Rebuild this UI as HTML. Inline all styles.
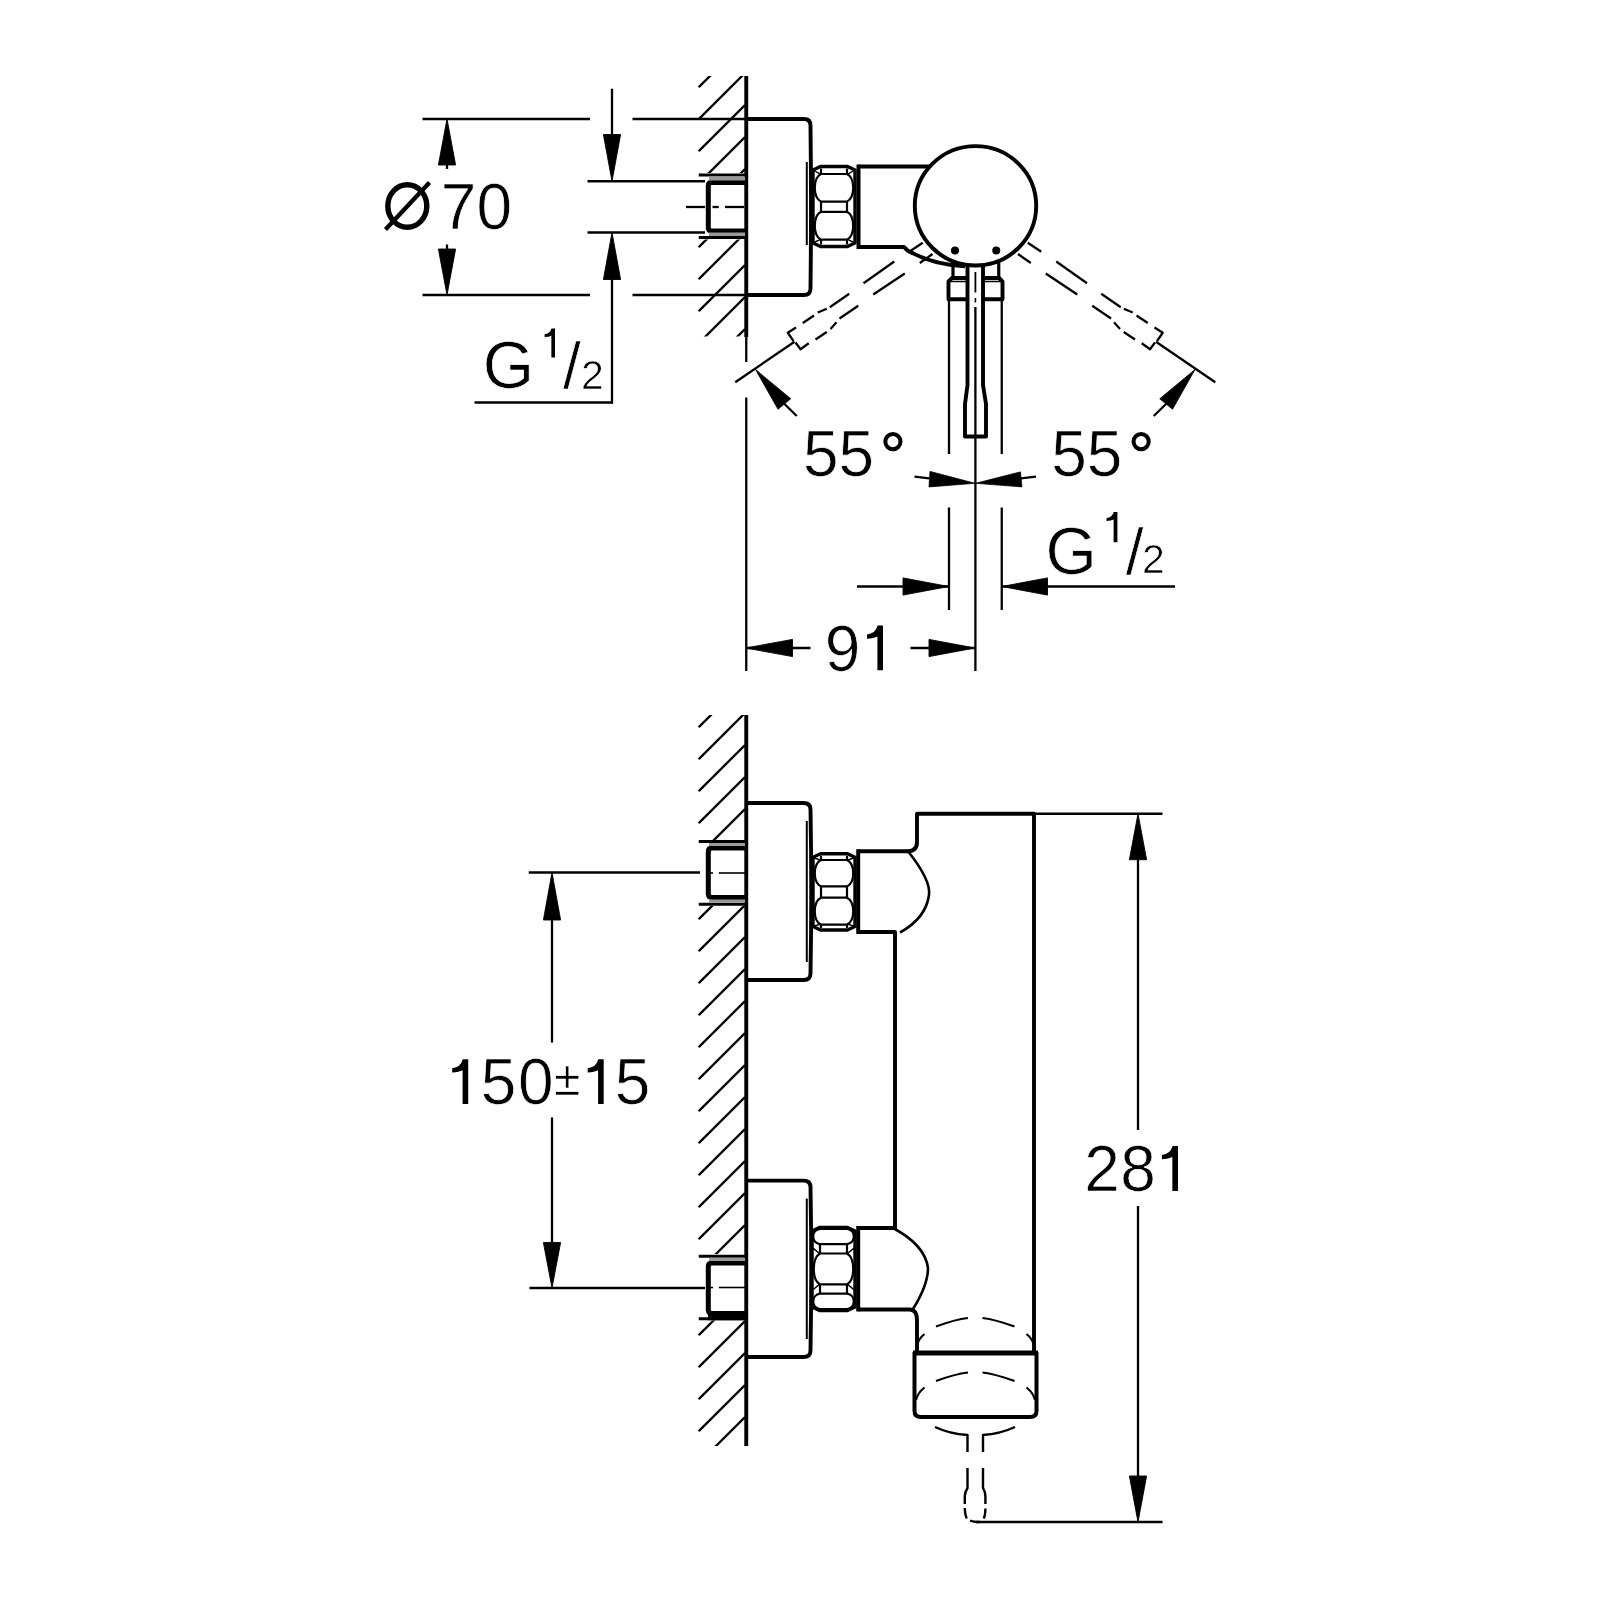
<!DOCTYPE html>
<html><head><meta charset="utf-8"><style>
html,body{margin:0;padding:0;background:#fff;}
svg{display:block;will-change:transform;}
text{font-family:"Liberation Sans",sans-serif;fill:#000;stroke:#fff;stroke-width:0.7px;}
</style></head><body>
<svg width="1600" height="1600" viewBox="0 0 1600 1600" stroke="#000" stroke-linecap="butt" stroke-linejoin="round">
<defs>
<clipPath id="hatchTop"><path d="M698 76 L745 76 L745 173 L698 173 Z M698 239.5 L745 239.5 L745 336.5 L698 336.5 Z"/></clipPath>
<clipPath id="hatchBot"><path d="M698 715 L745 715 L745 840 L698 840 Z M698 906 L745 906 L745 1254 L698 1254 Z M698 1320.5 L745 1320.5 L745 1446 L698 1446 Z"/></clipPath>
</defs>
<rect x="0" y="0" width="1600" height="1600" fill="#fff" stroke="none"/>
<g clip-path="url(#hatchTop)">
<line x1="698.75" y1="87.25" x2="745.00" y2="41.00" stroke-width="2.3" />
<line x1="698.75" y1="119.25" x2="745.00" y2="73.00" stroke-width="2.3" />
<line x1="698.75" y1="151.25" x2="745.00" y2="105.00" stroke-width="2.3" />
<line x1="698.75" y1="183.25" x2="745.00" y2="137.00" stroke-width="2.3" />
<line x1="698.75" y1="215.25" x2="745.00" y2="169.00" stroke-width="2.3" />
<line x1="698.75" y1="247.25" x2="745.00" y2="201.00" stroke-width="2.3" />
<line x1="698.75" y1="279.25" x2="745.00" y2="233.00" stroke-width="2.3" />
<line x1="698.75" y1="311.25" x2="745.00" y2="265.00" stroke-width="2.3" />
<line x1="698.75" y1="343.25" x2="745.00" y2="297.00" stroke-width="2.3" />
<line x1="698.75" y1="375.25" x2="745.00" y2="329.00" stroke-width="2.3" />
</g>
<line x1="746.25" y1="76.00" x2="746.25" y2="337.00" stroke-width="3.9" />
<line x1="746.25" y1="337.00" x2="746.25" y2="362.00" stroke-width="2.3" />
<line x1="746.25" y1="397.50" x2="746.25" y2="671.00" stroke-width="2.3" />
<line x1="422.50" y1="119.00" x2="590.00" y2="119.00" stroke-width="2.3" />
<line x1="632.50" y1="119.00" x2="746.00" y2="119.00" stroke-width="2.3" />
<line x1="422.50" y1="295.00" x2="590.00" y2="295.00" stroke-width="2.3" />
<line x1="632.50" y1="295.00" x2="746.00" y2="295.00" stroke-width="2.3" />
<line x1="447.00" y1="165.00" x2="447.00" y2="169.00" stroke-width="2.3" />
<path d="M447.00 119.00 L455.60 165.00 L438.40 165.00 Z" fill="#000" stroke="#000" stroke-width="0.9"/>
<line x1="447.00" y1="244.50" x2="447.00" y2="249.00" stroke-width="2.3" />
<path d="M447.00 295.00 L438.40 249.00 L455.60 249.00 Z" fill="#000" stroke="#000" stroke-width="0.9"/>
<line x1="612.00" y1="88.75" x2="612.00" y2="135.00" stroke-width="2.3" />
<line x1="612.00" y1="279.00" x2="612.00" y2="403.50" stroke-width="2.3" />
<line x1="474.50" y1="402.50" x2="613.00" y2="402.50" stroke-width="2.3" />
<path d="M612.00 181.25 L603.40 134.50 L620.60 134.50 Z" fill="#000" stroke="#000" stroke-width="0.9"/>
<path d="M612.00 232.50 L620.60 279.50 L603.40 279.50 Z" fill="#000" stroke="#000" stroke-width="0.9"/>
<line x1="587.50" y1="181.25" x2="705.00" y2="181.25" stroke-width="2.3" />
<line x1="587.50" y1="232.50" x2="705.00" y2="232.50" stroke-width="2.3" />
<line x1="698.75" y1="175.00" x2="745.00" y2="175.00" stroke-width="3.2" />
<line x1="698.75" y1="237.50" x2="745.00" y2="237.50" stroke-width="3.2" />
<path d="M745 182.5 L711.5 182.5 Q708.3 182.5 708.3 185.7 L708.3 227.8 Q708.3 231 711.5 231 L745 231" stroke-width="5.0" fill="none" />
<rect x="709" y="176.5" width="36" height="4" fill="#999" stroke="none"/>
<rect x="709" y="232.5" width="36" height="3.5" fill="#999" stroke="none"/>
<line x1="686.00" y1="207.00" x2="705.00" y2="207.00" stroke-width="2.3" />
<line x1="712.50" y1="207.00" x2="718.75" y2="207.00" stroke-width="2.3" />
<line x1="725.00" y1="207.00" x2="744.00" y2="207.00" stroke-width="2.3" />
<path d="M746.25 119 L804 119 Q810.5 119 810.5 125.5 Q811.5 207 810.5 288.5 Q810.5 295 804 295 L746.25 295" stroke-width="3.9" fill="none" />
<line x1="806.80" y1="162.00" x2="806.80" y2="245.00" stroke-width="2.0" />
<path d="M813.00 170.00 L820.50 166.50 L847.50 166.50 L855.00 170.00 L855.00 243.00 L847.50 246.50 L820.50 246.50 L813.00 243.00 Z" stroke-width="3.4" fill="none" />
<path d="M821 174.02 L847 174.02 C855.27 178.16 855.27 197.48 847 201.62 L821 201.62 C812.73 197.48 812.73 178.16 821 174.02 Z" stroke-width="2.2" fill="none" />
<path d="M821 211.78 L847 211.78 C855.27 215.96 855.27 235.44 847 239.62 L821 239.62 C812.73 235.44 812.73 215.96 821 211.78 Z" stroke-width="2.2" fill="none" />
<line x1="821.00" y1="168.50" x2="821.00" y2="174.02" stroke-width="2.2" />
<line x1="847.00" y1="168.50" x2="847.00" y2="174.02" stroke-width="2.2" />
<line x1="821.00" y1="201.62" x2="821.00" y2="211.78" stroke-width="2.2" />
<line x1="847.00" y1="201.62" x2="847.00" y2="211.78" stroke-width="2.2" />
<line x1="821.00" y1="239.62" x2="821.00" y2="244.50" stroke-width="2.2" />
<line x1="847.00" y1="239.62" x2="847.00" y2="244.50" stroke-width="2.2" />
<line x1="814.00" y1="170.50" x2="821.00" y2="174.52" stroke-width="1.4" />
<line x1="854.00" y1="170.50" x2="847.00" y2="174.52" stroke-width="1.4" />
<line x1="814.00" y1="242.50" x2="821.00" y2="239.12" stroke-width="1.4" />
<line x1="854.00" y1="242.50" x2="847.00" y2="239.12" stroke-width="1.4" />
<line x1="858.50" y1="164.50" x2="858.50" y2="249.00" stroke-width="4.0" />
<line x1="858.50" y1="166.50" x2="930.00" y2="166.50" stroke-width="3.9" />
<path d="M858.5 247 L904 247 L907.5 250.5 Q933 265 965 266.2" stroke-width="3.9" fill="none" />
<ellipse cx="975.5" cy="205.8" rx="60.7" ry="59.7" stroke-width="3.9" fill="none"/>
<circle cx="955" cy="250.6" r="4" fill="#000" stroke="none"/>
<circle cx="996.25" cy="250.6" r="4" fill="#000" stroke="none"/>
<line x1="953.00" y1="261.00" x2="953.00" y2="279.00" stroke-width="3.2" />
<line x1="998.75" y1="261.00" x2="998.75" y2="279.00" stroke-width="3.2" />
<path d="M967.5 299.3 L948.5 299.3 L948.5 281.5 L952 278 L967.5 278" stroke-width="3.9" fill="none" />
<path d="M983 299.3 L1002.5 299.3 L1002.5 281.5 L999 278 L983 278" stroke-width="3.9" fill="none" />
<line x1="950.00" y1="281.50" x2="967.50" y2="281.50" stroke-width="1.5" />
<line x1="983.00" y1="281.50" x2="1001.00" y2="281.50" stroke-width="1.5" />
<path d="M967.5 265 L967.5 385 L965 404 L965 436.5 L986 436.5 L986 404 L983 385 L983 265" stroke-width="3.9" fill="none" />
<line x1="975.40" y1="272.00" x2="975.40" y2="292.50" stroke-width="1.8" />
<line x1="975.40" y1="298.00" x2="975.40" y2="302.50" stroke-width="1.6" />
<line x1="975.40" y1="307.00" x2="975.40" y2="671.00" stroke-width="2.3" />
<line x1="949.00" y1="300.00" x2="949.00" y2="454.00" stroke-width="2.3" />
<line x1="1001.75" y1="300.00" x2="1001.75" y2="454.00" stroke-width="2.3" />
<line x1="949.00" y1="507.50" x2="949.00" y2="610.00" stroke-width="2.3" />
<line x1="1001.75" y1="507.50" x2="1001.75" y2="610.00" stroke-width="2.3" />
<line x1="914.50" y1="476.60" x2="929.00" y2="478.40" stroke-width="2.3" />
<path d="M975.00 483.30 L930.00 471.40 L929.00 486.90 Z" fill="#000" stroke="#000" stroke-width="0.8"/>
<line x1="1036.00" y1="476.60" x2="1021.00" y2="478.40" stroke-width="2.3" />
<path d="M975.60 483.30 L1020.50 471.90 L1021.90 486.90 Z" fill="#000" stroke="#000" stroke-width="0.8"/>
<g>
<path d="M1027.75 242.75 L1041.25 251.75" stroke-width="2.2" fill="none" stroke-linecap="butt"/>
<path d="M1018.00 254.00 L1030.75 263.00" stroke-width="2.2" fill="none" stroke-linecap="butt"/>
<path d="M1056.25 261.50 L1087.00 283.25" stroke-width="2.2" fill="none" stroke-linecap="butt"/>
<path d="M1101.25 293.75 L1120.75 307.25" stroke-width="2.2" fill="none" stroke-linecap="butt"/>
<path d="M1123.75 308.75 L1132.75 312.50" stroke-width="2.2" fill="none" stroke-linecap="butt"/>
<path d="M1136.50 315.50 L1147.75 323.00" stroke-width="2.2" fill="none" stroke-linecap="butt"/>
<path d="M1154.50 327.50 L1162.75 332.75 L1157.00 341.00" stroke-width="2.2" fill="none" stroke-linecap="butt"/>
<path d="M1045.75 273.50 L1077.25 294.50" stroke-width="2.2" fill="none" stroke-linecap="butt"/>
<path d="M1092.25 305.75 L1111.00 318.50" stroke-width="2.2" fill="none" stroke-linecap="butt"/>
<path d="M1114.00 322.25 L1120.00 329.00" stroke-width="2.2" fill="none" stroke-linecap="butt"/>
<path d="M1123.75 332.00 L1135.00 339.50" stroke-width="2.2" fill="none" stroke-linecap="butt"/>
<path d="M1141.75 343.25 L1150.00 349.25 L1155.00 342.50" stroke-width="2.2" fill="none" stroke-linecap="butt"/>
<line x1="1156.00" y1="341.75" x2="1215.25" y2="382.25" stroke-width="2.3" />
<path d="M1195.00 369.50 L1159.75 398.75 L1172.50 409.25 Z" fill="#000" stroke="#000" stroke-width="0.8"/>
<line x1="1166.00" y1="404.00" x2="1153.75" y2="416.00" stroke-width="2.3" />
</g>
<g transform="translate(1950.5 0) scale(-1 1)">
<path d="M1027.75 242.75 L1041.25 251.75" stroke-width="2.2" fill="none" stroke-linecap="butt"/>
<path d="M1018.00 254.00 L1030.75 263.00" stroke-width="2.2" fill="none" stroke-linecap="butt"/>
<path d="M1056.25 261.50 L1087.00 283.25" stroke-width="2.2" fill="none" stroke-linecap="butt"/>
<path d="M1101.25 293.75 L1120.75 307.25" stroke-width="2.2" fill="none" stroke-linecap="butt"/>
<path d="M1123.75 308.75 L1132.75 312.50" stroke-width="2.2" fill="none" stroke-linecap="butt"/>
<path d="M1136.50 315.50 L1147.75 323.00" stroke-width="2.2" fill="none" stroke-linecap="butt"/>
<path d="M1154.50 327.50 L1162.75 332.75 L1157.00 341.00" stroke-width="2.2" fill="none" stroke-linecap="butt"/>
<path d="M1045.75 273.50 L1077.25 294.50" stroke-width="2.2" fill="none" stroke-linecap="butt"/>
<path d="M1092.25 305.75 L1111.00 318.50" stroke-width="2.2" fill="none" stroke-linecap="butt"/>
<path d="M1114.00 322.25 L1120.00 329.00" stroke-width="2.2" fill="none" stroke-linecap="butt"/>
<path d="M1123.75 332.00 L1135.00 339.50" stroke-width="2.2" fill="none" stroke-linecap="butt"/>
<path d="M1141.75 343.25 L1150.00 349.25 L1155.00 342.50" stroke-width="2.2" fill="none" stroke-linecap="butt"/>
<line x1="1156.00" y1="341.75" x2="1215.25" y2="382.25" stroke-width="2.3" />
<path d="M1195.00 369.50 L1159.75 398.75 L1172.50 409.25 Z" fill="#000" stroke="#000" stroke-width="0.8"/>
<line x1="1166.00" y1="404.00" x2="1153.75" y2="416.00" stroke-width="2.3" />
</g>
<line x1="745.75" y1="648.00" x2="810.50" y2="648.00" stroke-width="2.3" />
<path d="M745.75 648.00 L792.50 639.40 L792.50 656.60 Z" fill="#000" stroke="#000" stroke-width="0.9"/>
<line x1="910.50" y1="648.00" x2="975.00" y2="648.00" stroke-width="2.3" />
<path d="M975.00 648.00 L929.00 656.60 L929.00 639.40 Z" fill="#000" stroke="#000" stroke-width="0.9"/>
<line x1="857.00" y1="586.50" x2="948.75" y2="586.50" stroke-width="2.3" />
<path d="M948.75 586.50 L903.00 595.10 L903.00 577.90 Z" fill="#000" stroke="#000" stroke-width="0.9"/>
<line x1="1001.75" y1="586.50" x2="1175.00" y2="586.50" stroke-width="2.3" />
<path d="M1001.75 586.50 L1047.50 577.90 L1047.50 595.10 Z" fill="#000" stroke="#000" stroke-width="0.9"/>
<g clip-path="url(#hatchBot)">
<line x1="698.75" y1="727.25" x2="745.00" y2="681.00" stroke-width="2.3" />
<line x1="698.75" y1="759.25" x2="745.00" y2="713.00" stroke-width="2.3" />
<line x1="698.75" y1="791.25" x2="745.00" y2="745.00" stroke-width="2.3" />
<line x1="698.75" y1="823.25" x2="745.00" y2="777.00" stroke-width="2.3" />
<line x1="698.75" y1="855.25" x2="745.00" y2="809.00" stroke-width="2.3" />
<line x1="698.75" y1="887.25" x2="745.00" y2="841.00" stroke-width="2.3" />
<line x1="698.75" y1="919.25" x2="745.00" y2="873.00" stroke-width="2.3" />
<line x1="698.75" y1="951.25" x2="745.00" y2="905.00" stroke-width="2.3" />
<line x1="698.75" y1="983.25" x2="745.00" y2="937.00" stroke-width="2.3" />
<line x1="698.75" y1="1015.25" x2="745.00" y2="969.00" stroke-width="2.3" />
<line x1="698.75" y1="1047.25" x2="745.00" y2="1001.00" stroke-width="2.3" />
<line x1="698.75" y1="1079.25" x2="745.00" y2="1033.00" stroke-width="2.3" />
<line x1="698.75" y1="1111.25" x2="745.00" y2="1065.00" stroke-width="2.3" />
<line x1="698.75" y1="1143.25" x2="745.00" y2="1097.00" stroke-width="2.3" />
<line x1="698.75" y1="1175.25" x2="745.00" y2="1129.00" stroke-width="2.3" />
<line x1="698.75" y1="1207.25" x2="745.00" y2="1161.00" stroke-width="2.3" />
<line x1="698.75" y1="1239.25" x2="745.00" y2="1193.00" stroke-width="2.3" />
<line x1="698.75" y1="1271.25" x2="745.00" y2="1225.00" stroke-width="2.3" />
<line x1="698.75" y1="1303.25" x2="745.00" y2="1257.00" stroke-width="2.3" />
<line x1="698.75" y1="1335.25" x2="745.00" y2="1289.00" stroke-width="2.3" />
<line x1="698.75" y1="1367.25" x2="745.00" y2="1321.00" stroke-width="2.3" />
<line x1="698.75" y1="1399.25" x2="745.00" y2="1353.00" stroke-width="2.3" />
<line x1="698.75" y1="1431.25" x2="745.00" y2="1385.00" stroke-width="2.3" />
<line x1="698.75" y1="1463.25" x2="745.00" y2="1417.00" stroke-width="2.3" />
</g>
<line x1="746.25" y1="715.00" x2="746.25" y2="1446.00" stroke-width="3.9" />
<path d="M746.25 803 L803.5 803 Q810.5 803 810.5 809.5 Q812 891.5 810.5 973.5 Q810.5 980 803.5 980 L746.25 980" stroke-width="3.9" fill="none" />
<line x1="806.80" y1="821.00" x2="806.80" y2="962.00" stroke-width="2.0" />
<line x1="698.75" y1="841.50" x2="745.00" y2="841.50" stroke-width="3.2" />
<line x1="698.75" y1="904.25" x2="745.00" y2="904.25" stroke-width="3.2" />
<path d="M745 848 L712 848 Q708.3 848 708.3 851.7 L708.3 893.8 Q708.3 897.5 712 897.5 L745 897.5" stroke-width="5.0" fill="none" />
<rect x="709" y="843.0" width="36" height="3.0" fill="#999" stroke="none"/>
<rect x="709" y="899.5" width="36" height="3.25" fill="#999" stroke="none"/>
<line x1="707.50" y1="873.00" x2="713.00" y2="873.00" stroke-width="1.6" />
<line x1="718.75" y1="873.00" x2="745.00" y2="873.00" stroke-width="1.6" />
<path d="M813.00 857.25 L820.50 853.75 L847.50 853.75 L855.00 857.25 L855.00 926.50 L847.50 930.00 L820.50 930.00 L813.00 926.50 Z" stroke-width="3.4" fill="none" />
<path d="M821 860.0025 L847 860.0025 C855.27 863.96 855.27 882.43 847 886.385 L821 886.385 C812.73 882.43 812.73 863.96 821 860.0025 Z" stroke-width="2.2" fill="none" />
<path d="M821 897.67 L847 897.67 C855.27 901.71 855.27 920.55 847 924.5862500000001 L821 924.5862500000001 C812.73 920.55 812.73 901.71 821 897.67 Z" stroke-width="2.2" fill="none" />
<line x1="821.00" y1="855.75" x2="821.00" y2="860.00" stroke-width="2.2" />
<line x1="847.00" y1="855.75" x2="847.00" y2="860.00" stroke-width="2.2" />
<line x1="821.00" y1="886.38" x2="821.00" y2="897.67" stroke-width="2.2" />
<line x1="847.00" y1="886.38" x2="847.00" y2="897.67" stroke-width="2.2" />
<line x1="821.00" y1="924.59" x2="821.00" y2="928.00" stroke-width="2.2" />
<line x1="847.00" y1="924.59" x2="847.00" y2="928.00" stroke-width="2.2" />
<line x1="814.00" y1="857.75" x2="821.00" y2="860.50" stroke-width="1.4" />
<line x1="854.00" y1="857.75" x2="847.00" y2="860.50" stroke-width="1.4" />
<line x1="814.00" y1="926.00" x2="821.00" y2="924.09" stroke-width="1.4" />
<line x1="854.00" y1="926.00" x2="847.00" y2="924.09" stroke-width="1.4" />
<line x1="858.20" y1="849.25" x2="858.20" y2="933.90" stroke-width="4.0" />
<path d="M746.25 1180.6 L803.5 1180.6 Q810.5 1180.6 810.5 1187.1 Q812 1268.8 810.5 1350.5 Q810.5 1357 803.5 1357 L746.25 1357" stroke-width="3.9" fill="none" />
<line x1="806.80" y1="1198.60" x2="806.80" y2="1339.00" stroke-width="2.0" />
<line x1="698.75" y1="1256.25" x2="745.00" y2="1256.25" stroke-width="3.2" />
<line x1="698.75" y1="1318.75" x2="745.00" y2="1318.75" stroke-width="3.2" />
<path d="M745 1263 L712 1263 Q708.3 1263 708.3 1266.7 L708.3 1309.8 Q708.3 1313.5 712 1313.5 L745 1313.5" stroke-width="5.0" fill="none" />
<rect x="709" y="1257.75" width="36" height="3.25" fill="#999" stroke="none"/>
<rect x="708" y="1312.5" width="37" height="7.75" fill="#000" stroke="none"/>
<line x1="707.50" y1="1287.50" x2="713.00" y2="1287.50" stroke-width="1.6" />
<line x1="718.75" y1="1287.50" x2="745.00" y2="1287.50" stroke-width="1.6" />
<path d="M812.00 1231.00 L819.50 1227.50 L847.50 1227.50 L855.00 1231.00 L855.00 1307.00 L847.50 1310.50 L819.50 1310.50 L812.00 1307.00 Z" stroke-width="3.4" fill="none" />
<path d="M820 1229.0 L847 1229.0 C856 1230.0 856 1243.1 847 1244.1 L820 1244.1 C811 1243.1 811 1230.0 820 1229.0 Z" stroke-width="2.2" fill="none" />
<path d="M820 1293.7 L847 1293.7 C856 1294.7 856 1308.0 847 1309.0 L820 1309.0 C811 1308.0 811 1294.7 820 1293.7 Z" stroke-width="2.2" fill="none" />
<path d="M820 1253.5 L847 1253.5 C855.27 1258.13 855.27 1279.77 847 1284.4 L820 1284.4 C811.73 1279.77 811.73 1258.13 820 1253.5 Z" stroke-width="2.2" fill="none" />
<line x1="820.00" y1="1244.10" x2="820.00" y2="1253.50" stroke-width="2.2" />
<line x1="847.00" y1="1244.10" x2="847.00" y2="1253.50" stroke-width="2.2" />
<line x1="820.00" y1="1284.40" x2="820.00" y2="1293.70" stroke-width="2.2" />
<line x1="847.00" y1="1284.40" x2="847.00" y2="1293.70" stroke-width="2.2" />
<line x1="813.00" y1="1248.10" x2="820.00" y2="1254.00" stroke-width="1.4" />
<line x1="854.00" y1="1248.10" x2="847.00" y2="1254.00" stroke-width="1.4" />
<line x1="813.00" y1="1289.70" x2="820.00" y2="1283.90" stroke-width="1.4" />
<line x1="854.00" y1="1289.70" x2="847.00" y2="1283.90" stroke-width="1.4" />
<line x1="858.20" y1="1226.00" x2="858.20" y2="1311.40" stroke-width="4.0" />
<path d="M858.2 851.25 L908 851.25 Q917 851 917 842 L917 813.75 L1034 813.75 L1034 1352" stroke-width="3.9" fill="none" />
<path d="M908 851.25 Q931 880 929 895 Q926 918 900 932.5" stroke-width="2.6" fill="none" />
<path d="M858.2 932 L895 932 L895 1228 L858.2 1228" stroke-width="3.9" fill="none" />
<path d="M893 1228 Q925 1245 928 1268 Q928 1285 913 1309" stroke-width="2.6" fill="none" />
<path d="M858.2 1309.5 L910 1309.5 Q917 1310 917 1320 L917 1352" stroke-width="3.9" fill="none" />
<path d="M914.5 1352 L914.5 1411 Q914.5 1417 921 1417 L1030 1417 Q1036.5 1417 1036.5 1411 L1036.5 1352" stroke-width="4.0" fill="none" />
<line x1="913.00" y1="1353.00" x2="1038.00" y2="1353.00" stroke-width="5.0" />
<path d="M936 1326.5 Q955 1319.5 968 1318" stroke-width="2.2" fill="none" />
<path d="M982.5 1318 Q995 1319.5 1014.5 1326.5" stroke-width="2.2" fill="none" />
<path d="M936 1381 Q955 1374 968 1372.5" stroke-width="2.2" fill="none" />
<path d="M982.5 1372.5 Q995 1374 1014.5 1381" stroke-width="2.2" fill="none" />
<g>
<path d="M1026.5 1334 Q1033 1339 1035 1348" stroke-width="2.2" fill="none" />
<path d="M924.5 1334 Q918 1339 916 1348" stroke-width="2.2" fill="none" />
</g>
<g>
<path d="M1026.5 1387.5 Q1033 1392.5 1035 1400" stroke-width="2.2" fill="none" />
<path d="M924.5 1387.5 Q918 1392.5 916 1400" stroke-width="2.2" fill="none" />
</g>
<path d="M935 1427 Q950 1434 967.5 1435 L967.5 1452" stroke-width="2.4" fill="none" />
<path d="M1015 1427 Q1000 1434 983 1435 L983 1452" stroke-width="2.4" fill="none" />
<path d="M967.5 1468 L967.5 1488 Q965 1492 964.8 1496 L964.8 1504" stroke-width="2.4" fill="none" />
<path d="M964.8 1508 Q965 1515 966.8 1518.5" stroke-width="2.4" fill="none" />
<path d="M983 1468 L983 1488 Q985.4 1492 985.4 1496 L985.4 1504" stroke-width="2.4" fill="none" />
<path d="M985.4 1508.5 Q985.4 1515 983.7 1518.5" stroke-width="2.4" fill="none" />
<path d="M970 1520.5 Q975 1522.5 980 1521.8" stroke-width="2.4" fill="none" />
<line x1="1034.00" y1="813.75" x2="1162.50" y2="813.75" stroke-width="2.3" />
<line x1="976.00" y1="1522.00" x2="1162.50" y2="1522.00" stroke-width="2.3" />
<line x1="1138.00" y1="859.00" x2="1138.00" y2="1130.00" stroke-width="2.3" />
<path d="M1138.00 813.75 L1146.60 859.70 L1129.40 859.70 Z" fill="#000" stroke="#000" stroke-width="0.9"/>
<line x1="1138.00" y1="1206.00" x2="1138.00" y2="1477.00" stroke-width="2.3" />
<path d="M1138.00 1522.00 L1129.40 1476.00 L1146.60 1476.00 Z" fill="#000" stroke="#000" stroke-width="0.9"/>
<line x1="528.75" y1="872.50" x2="700.00" y2="872.50" stroke-width="2.3" />
<line x1="529.50" y1="1288.00" x2="705.00" y2="1288.00" stroke-width="2.3" />
<line x1="552.00" y1="920.00" x2="552.00" y2="1042.50" stroke-width="2.3" />
<path d="M552.00 872.50 L560.60 920.00 L543.40 920.00 Z" fill="#000" stroke="#000" stroke-width="0.9"/>
<line x1="552.00" y1="1117.50" x2="552.00" y2="1243.00" stroke-width="2.3" />
<path d="M552.00 1288.00 L543.40 1242.50 L560.60 1242.50 Z" fill="#000" stroke="#000" stroke-width="0.9"/>
<ellipse cx="407.3" cy="206" rx="19.5" ry="21.2" stroke-width="5.4" fill="none"/>
<line x1="385.50" y1="229.50" x2="429.50" y2="182.50" stroke-width="4.3" />
<text x="440.72" y="229.00" font-size="64">7</text>
<text x="476.50" y="229.40" font-size="64">0</text>
<text x="482.68" y="388.40" font-size="66">G</text>
<path d="M555.00 328.50 L555.00 357.50 L551.37 357.50 L551.37 335.64 Q549.16 336.80 544.62 337.06 L544.62 334.34 Q550.13 333.69 551.50 328.50 Z" fill="#000" stroke="none"/>
<text x="563.00" y="388.40" font-size="64">/</text>
<text x="580.94" y="388.50" font-size="41">2</text>
<text x="1045.43" y="574.00" font-size="66">G</text>
<path d="M1117.40 512.00 L1117.40 542.20 L1113.62 542.20 L1113.62 519.43 Q1111.32 520.65 1106.59 520.92 L1106.59 518.08 Q1112.33 517.40 1113.75 512.00 Z" fill="#000" stroke="none"/>
<text x="1125.75" y="574.00" font-size="64">/</text>
<text x="1142.04" y="572.80" font-size="41">2</text>
<text x="802.94" y="476.00" font-size="64">5</text>
<text x="838.54" y="476.00" font-size="64">5</text>
<circle cx="892.90" cy="441.6" r="7.6" stroke-width="4" fill="none"/>
<text x="1051.19" y="476.00" font-size="64">5</text>
<text x="1086.79" y="476.00" font-size="64">5</text>
<circle cx="1141.15" cy="441.6" r="7.6" stroke-width="4" fill="none"/>
<text x="824.75" y="671.00" font-size="64">9</text>
<path d="M883.00 625.60 L883.00 670.30 L877.40 670.30 L877.40 636.60 Q874.00 638.40 867.00 638.80 L867.00 634.60 Q875.50 633.60 877.60 625.60 Z" fill="#000" stroke="none"/>
<path d="M468.20 1059.25 L468.20 1104.00 L462.59 1104.00 L462.59 1070.26 Q459.19 1072.06 452.18 1072.46 L452.18 1068.26 Q460.69 1067.26 462.79 1059.25 Z" fill="#000" stroke="none"/>
<text x="480.74" y="1104.00" font-size="64">5</text>
<text x="518.00" y="1104.00" font-size="64">0</text>
<text x="553.98" y="1095.00" font-size="48">±</text>
<path d="M603.70 1059.25 L603.70 1104.00 L598.09 1104.00 L598.09 1070.26 Q594.69 1072.06 587.68 1072.46 L587.68 1068.26 Q596.19 1067.26 598.29 1059.25 Z" fill="#000" stroke="none"/>
<text x="614.84" y="1104.00" font-size="64">5</text>
<text x="1084.28" y="1191.00" font-size="64">2</text>
<text x="1120.22" y="1191.00" font-size="64">8</text>
<path d="M1178.00 1146.00 L1178.00 1191.00 L1172.36 1191.00 L1172.36 1157.07 Q1168.94 1158.89 1161.89 1159.29 L1161.89 1155.06 Q1170.45 1154.05 1172.56 1146.00 Z" fill="#000" stroke="none"/>
</svg>
</body></html>
